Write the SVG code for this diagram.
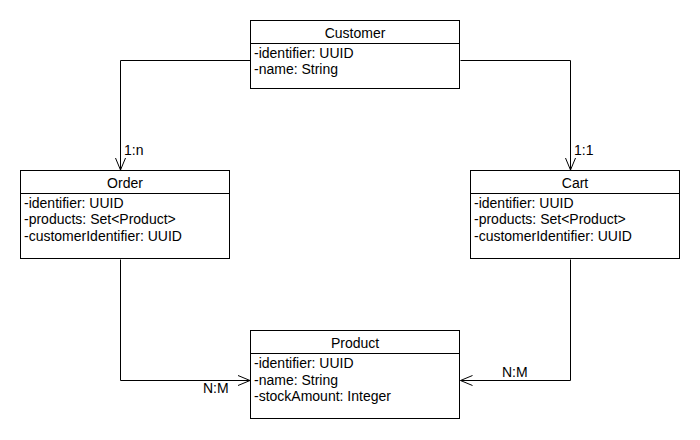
<svg xmlns="http://www.w3.org/2000/svg" width="700" height="440" viewBox="0 0 700 440">
<style>
.box{fill:#fff;stroke:#000;stroke-width:1}
.t{font-family:"Liberation Sans",Arial,sans-serif;font-size:14px;fill:#000}
.h{text-anchor:middle}
.c{fill:none;stroke:#000;stroke-width:1}
</style>
<defs>
<marker id="open" viewBox="0 0 14 12" refX="13" refY="6" markerWidth="14" markerHeight="12" markerUnits="userSpaceOnUse" orient="auto">
<path d="M1,1 L13,6 L1,11" fill="none" stroke="#000" stroke-width="1"/>
</marker>
</defs>
<rect width="700" height="440" fill="#fff"/>
<g id="connectors">
<path class="c" d="M250.5,60.5 H120.5 V170" marker-end="url(#open)"/>
<path class="c" d="M460.5,60.5 H570.5 V170" marker-end="url(#open)"/>
<path class="c" d="M120.5,259.5 V380.5 H250" marker-end="url(#open)"/>
<path class="c" d="M570.5,259.5 V380.5 H460.5" marker-end="url(#open)"/>
<text class="t" x="124" y="155">1:n</text>
<text class="t" x="574" y="155">1:1</text>
<text class="t" x="203" y="393">N:M</text>
<text class="t" x="502" y="377">N:M</text>
</g>
<g id="customer">
<rect class="box" x="250.5" y="20.5" width="209" height="68"/>
<line class="c" x1="250.5" y1="43.5" x2="459.5" y2="43.5"/>
<text class="t h" x="355" y="38">Customer</text>
<text class="t" x="254" y="58">-identifier: UUID</text>
<text class="t" x="254" y="74">-name: String</text>
</g>
<g id="order">
<rect class="box" x="20.5" y="170.5" width="209" height="88"/>
<line class="c" x1="20.5" y1="193.5" x2="229.5" y2="193.5"/>
<text class="t h" x="125" y="188">Order</text>
<text class="t" x="24" y="208">-identifier: UUID</text>
<text class="t" x="24" y="224">-products: Set&lt;Product&gt;</text>
<text class="t" x="24" y="241">-customerIdentifier: UUID</text>
</g>
<g id="cart">
<rect class="box" x="470.5" y="170.5" width="209" height="88"/>
<line class="c" x1="470.5" y1="193.5" x2="679.5" y2="193.5"/>
<text class="t h" x="575" y="188">Cart</text>
<text class="t" x="474" y="208">-identifier: UUID</text>
<text class="t" x="474" y="224">-products: Set&lt;Product&gt;</text>
<text class="t" x="474" y="241">-customerIdentifier: UUID</text>
</g>
<g id="product">
<rect class="box" x="250.5" y="330.5" width="209" height="88"/>
<line class="c" x1="250.5" y1="353.5" x2="459.5" y2="353.5"/>
<text class="t h" x="355" y="348">Product</text>
<text class="t" x="254" y="368">-identifier: UUID</text>
<text class="t" x="254" y="385">-name: String</text>
<text class="t" x="254" y="401">-stockAmount: Integer</text>
</g>
</svg>
